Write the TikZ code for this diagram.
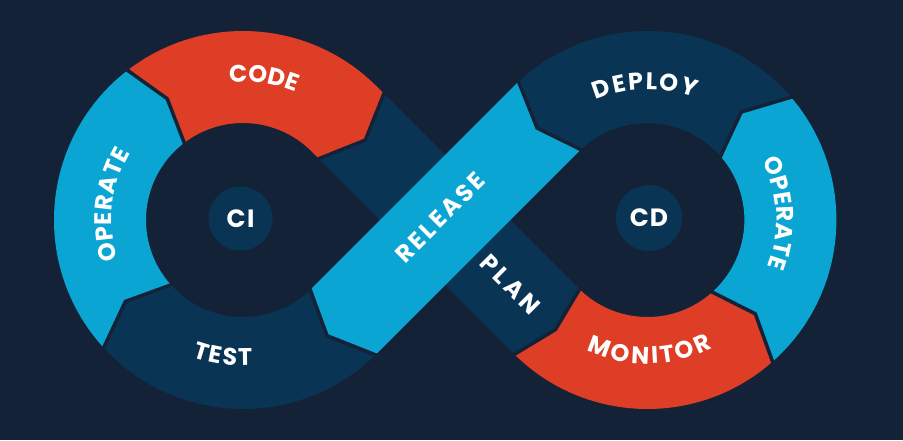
\documentclass[tikz,border=0pt]{standalone}
\usepackage{fontspec}
\setmainfont{Poppins}
\usetikzlibrary{decorations.text}
\definecolor{bgc}{RGB}{19,34,54}
\definecolor{dblue}{RGB}{10,52,84}
\definecolor{lblue}{RGB}{10,165,211}
\definecolor{redc}{RGB}{222,61,38}
\newcommand\lblfont{\bfseries\fontsize{24}{26}\selectfont}
\newcommand\hubfont{\bfseries\fontsize{25}{27}\selectfont}
\begin{document}
\begin{tikzpicture}[x=1pt,y=1pt,
  gapline/.style={draw=bgc, line width=3.5pt, line join=miter},
  ringlabel/.style={decorate, decoration={text along path, text={|\lblfont|#1}, text align=fit to path, text color=white}},
  bandlabel/.style={rotate=#1, text=white, font=\lblfont, inner sep=0pt},
  hubc/.style={circle, fill=dblue, minimum size=#1, inner sep=0pt, text=white, font=\hubfont}]
\fill[bgc] (0,0) rectangle (903,440);
\useasboundingbox (0,0) rectangle (903,440);
\coordinate (L) at (243,220);
\coordinate (R) at (647.4,220);
\coordinate (O) at (445.2,220);
% PLAN band frame
\begin{scope}[shift={(O)}, rotate=-45]
 \coordinate (pa) at (-134,46);
 \coordinate (pb) at (-113,0);
 \coordinate (pc) at (-134,-46);
 \coordinate (pa2) at (-134,49);
 \coordinate (pc2) at (-134,-49);
 \coordinate (pd) at (143,46);
 \coordinate (pe) at (143,-46);
 \coordinate (plc) at (91.5,0.6);
\end{scope}
% RELEASE band frame
\begin{scope}[shift={(O)}, rotate=45]
 \coordinate (ra) at (130,0);
 \coordinate (rb) at (-143,46);
 \coordinate (rc) at (-143,-46);
 \coordinate (rd) at (143,-46);
 \coordinate (relc) at (-1.9,5.5);
\end{scope}
% TEST
\fill[dblue] ([shift={(L)}]315:189) arc[start angle=315,end angle=223,radius=189] -- ([shift={(L)}]214.7:143) -- ([shift={(L)}]223:97) arc[start angle=223,end angle=315,radius=97] -- ([shift={(L)}]306:143) -- cycle;
% OPERATE left
\fill[lblue] ([shift={(L)}]223:189) arc[start angle=223,end angle=128,radius=189] -- ([shift={(L)}]122:143) -- ([shift={(L)}]128:97) arc[start angle=128,end angle=223,radius=97] -- ([shift={(L)}]214.7:143) -- cycle;
% CODE
\fill[redc] ([shift={(L)}]128:189) arc[start angle=128,end angle=45,radius=189] -- (pa) -- (pb) -- (pc) -- ([shift={(L)}]45:97) arc[start angle=45,end angle=128,radius=97] -- ([shift={(L)}]122:143) -- cycle;
% PLAN
\fill[dblue] (pa) -- (pd) -- ([shift={(R)}]230:143) -- (pe) -- (pc) -- (pb) -- cycle;
% MONITOR
\fill[redc] ([shift={(R)}]225:189) arc[start angle=225,end angle=311,radius=189] -- ([shift={(R)}]319:143) -- ([shift={(R)}]311:97) arc[start angle=311,end angle=225,radius=97] -- ([shift={(R)}]230:143) -- cycle;
% OPERATE right
\fill[lblue] ([shift={(R)}]-49:189) arc[start angle=-49,end angle=40,radius=189] -- ([shift={(R)}]49:143) -- ([shift={(R)}]40:97) arc[start angle=40,end angle=-49,radius=97] -- ([shift={(R)}]-41:143) -- cycle;
% DEPLOY
\fill[dblue] ([shift={(R)}]40:189) arc[start angle=40,end angle=132.5,radius=189] -- (ra) -- ([shift={(R)}]132.5:97) arc[start angle=132.5,end angle=40,radius=97] -- ([shift={(R)}]49:143) -- cycle;
% RELEASE
\fill[lblue] ([shift={(R)}]132.5:189) arc[start angle=132.5,end angle=135,radius=189] -- (rb) -- ([shift={(L)}]306:143) -- (rc) -- (rd) arc[start angle=135,end angle=132.5,radius=97] -- (ra) -- cycle;
% gap lines
\draw[gapline] ([shift={(L)}]315:193) -- ([shift={(L)}]306:143) -- ([shift={(L)}]315:93);
\draw[gapline] ([shift={(L)}]223:193) -- ([shift={(L)}]214.7:143) -- ([shift={(L)}]223:93);
\draw[gapline] ([shift={(L)}]128:193) -- ([shift={(L)}]122:143) -- ([shift={(L)}]128:93);
\draw[gapline] (pa2) -- (pb) -- (pc2);
\draw[gapline] ([shift={(R)}]225:193) -- ([shift={(R)}]230:143) -- ([shift={(R)}]225:93);
\draw[gapline] ([shift={(R)}]-49:193) -- ([shift={(R)}]-41:143) -- ([shift={(R)}]-49:93);
\draw[gapline] ([shift={(R)}]40:193) -- ([shift={(R)}]49:143) -- ([shift={(R)}]40:93);
\draw[gapline] ([shift={(R)}]132.5:193) -- (ra) -- ([shift={(R)}]132.5:93);
% hubs
\node[hubc=64pt] (ci) at (240.5,221.5) {C\kern1.5pt I};
\node[hubc=66pt] (cd) at (649,222) {C\kern1pt D};
% labels
\path[ringlabel=CODE] ([shift={(L)}]95.65:138.2) arc[start angle=95.65,end angle=70.15,radius=138.2];
\path[ringlabel=OPERATE] ([shift={(L)}]197.7:131.2) arc[start angle=197.7,end angle=149.1,radius=131.2];
\path[ringlabel=TEST] ([shift={(L)}]249.95:145.8) arc[start angle=249.95,end angle=273.65,radius=145.8];
\path[ringlabel=DEPLOY] ([shift={(R)}]113.15:130.7) arc[start angle=113.15,end angle=68.85,radius=130.7];
\path[ringlabel=OPERATE] ([shift={(R)}]27.45:129.2) arc[start angle=27.45,end angle=-21.45,radius=129.2];
\path[ringlabel=MONITOR] ([shift={(R)}]245.1:143.8) arc[start angle=245.1,end angle=296.9,radius=143.8];
\node[bandlabel=45] (release) at (relc) {R\kern2.8pt E\kern2.8pt L\kern2.8pt E\kern2.8pt A\kern2.8pt S\kern2.8pt E};
\node[bandlabel=-45] (plan) at (plc) {P\kern4pt L\kern4pt A\kern4pt N};
\end{tikzpicture}
\end{document}
